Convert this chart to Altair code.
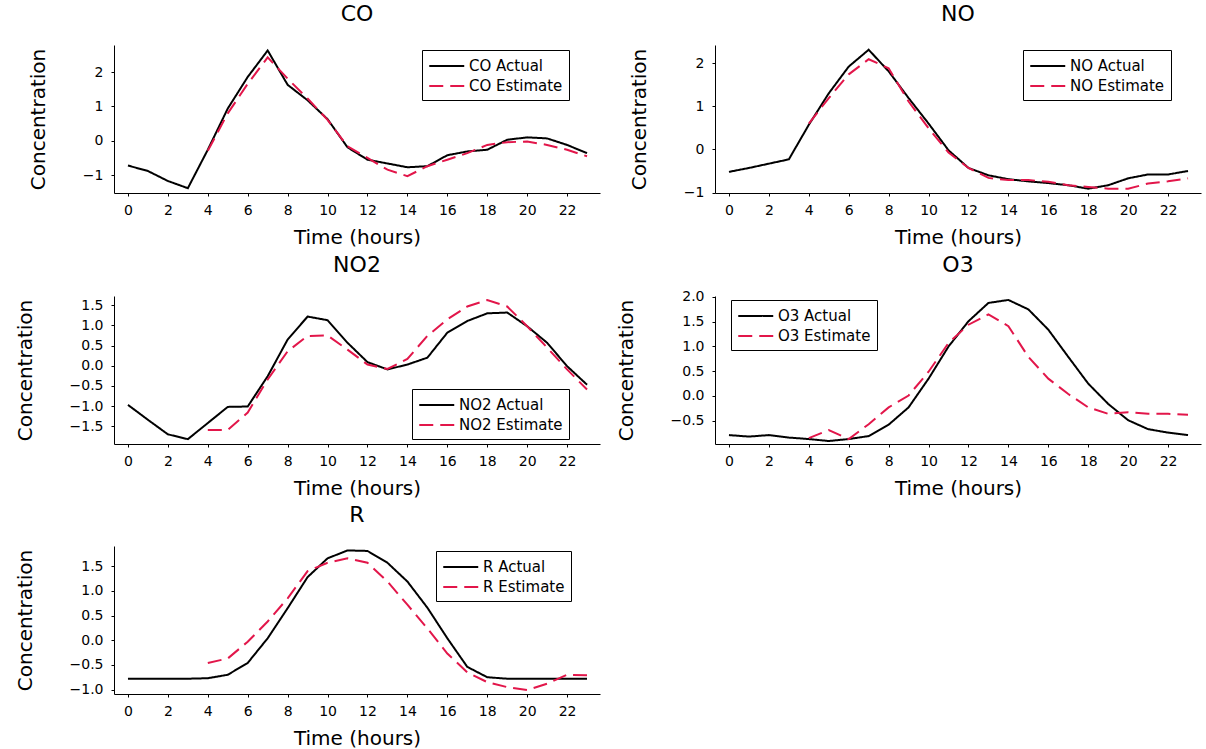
import altair as alt
import pandas as pd

hours = list(range(24))
est_hours = list(range(4, 24))

co_actual = [-0.72, -0.88, -1.17, -1.38, -0.26, 0.94, 1.86, 2.63, 1.63, 1.18, 0.63, -0.19,
             -0.55, -0.66, -0.77, -0.74, -0.42, -0.31, -0.26, 0.03, 0.10, 0.07, -0.12, -0.36]
co_est = [-0.29, 0.80, 1.66, 2.43, 1.81, 1.23, 0.61, -0.16, -0.50, -0.84, -1.03, -0.74,
          -0.55, -0.36, -0.12, -0.04, -0.02, -0.12, -0.26, -0.45]

no_actual = [-0.52, -0.43, -0.33, -0.23, 0.57, 1.30, 1.92, 2.31, 1.81, 1.19, 0.60, -0.02,
             -0.43, -0.60, -0.69, -0.74, -0.78, -0.83, -0.91, -0.83, -0.67, -0.58, -0.58, -0.50]
no_est = [0.60, 1.19, 1.74, 2.09, 1.88, 1.11, 0.49, -0.07, -0.43, -0.66, -0.71, -0.71,
          -0.75, -0.83, -0.87, -0.91, -0.91, -0.79, -0.74, -0.67]

no2_actual = [-0.97, -1.34, -1.70, -1.82, -1.42, -1.02, -1.01, -0.26, 0.65, 1.22, 1.13, 0.57,
              0.09, -0.09, 0.03, 0.20, 0.82, 1.11, 1.30, 1.32, 0.98, 0.57, -0.01, -0.47]
no2_est = [-1.59, -1.59, -1.16, -0.34, 0.36, 0.74, 0.75, 0.40, 0.03, -0.08, 0.17, 0.74,
           1.15, 1.47, 1.63, 1.47, 0.98, 0.45, -0.09, -0.59]

o3_actual = [-0.79, -0.82, -0.79, -0.84, -0.87, -0.91, -0.87, -0.81, -0.58, -0.23, 0.35, 1.00,
             1.51, 1.88, 1.94, 1.75, 1.34, 0.79, 0.25, -0.16, -0.49, -0.67, -0.74, -0.79]
o3_est = [-0.85, -0.69, -0.87, -0.57, -0.23, 0.01, 0.49, 1.07, 1.44, 1.65, 1.41, 0.79,
          0.35, 0.04, -0.23, -0.36, -0.33, -0.36, -0.36, -0.38]

r_actual = [-0.78, -0.78, -0.78, -0.78, -0.77, -0.70, -0.46, 0.04, 0.65, 1.28, 1.66, 1.82,
            1.81, 1.57, 1.19, 0.66, 0.04, -0.54, -0.75, -0.78, -0.78, -0.78, -0.78, -0.78]
r_est = [-0.46, -0.37, -0.03, 0.38, 0.85, 1.40, 1.57, 1.66, 1.57, 1.19, 0.72, 0.24,
         -0.27, -0.65, -0.85, -0.95, -1.01, -0.88, -0.70, -0.71]

x_ticks = list(range(0, 24, 2))

RED = "#E2164A"
FONT = "DejaVu Sans"

panels = [
    # name, actual, estimate, y-domain, y-ticks, format, legend x, legend y, title offset
    ("CO", co_actual, co_est, [-1.52, 2.79], [-1, 0, 1, 2], "d", 308, 5, 19),
    ("NO", no_actual, no_est, [-1.01, 2.42], [-1, 0, 1, 2], "d", 308, 5, 19),
    ("NO2", no2_actual, no2_est, [-1.94, 1.73], [-1.5, -1.0, -0.5, 0.0, 0.5, 1.0, 1.5], ".1f", 298, 93, 19),
    ("O3", o3_actual, o3_est, [-0.97, 2.02], [-0.5, 0.0, 0.5, 1.0, 1.5, 2.0], ".1f", 16, 4, 13),
    ("R", r_actual, r_est, [-1.09, 1.91], [-1.0, -0.5, 0.0, 0.5, 1.0, 1.5], ".1f", 322, 5, 19),
]


def make_panel(name, actual, est, ydom, yticks, fmt, lx, ly, toff):
    a_lab = f"{name} Actual"
    e_lab = f"{name} Estimate"
    df = pd.concat([
        pd.DataFrame({"hour": hours, "value": actual, "series": a_lab}),
        pd.DataFrame({"hour": est_hours, "value": est, "series": e_lab}),
    ])
    return alt.Chart(df, title=alt.Title(name, fontSize=22, font=FONT, fontWeight="normal",
                                         color="black", offset=toff)).mark_line(
        strokeWidth=2
    ).encode(
        x=alt.X("hour:Q", title="Time (hours)",
                scale=alt.Scale(domain=[-0.7, 23.65], nice=False, zero=False),
                axis=alt.Axis(values=x_ticks, format="d")),
        y=alt.Y("value:Q", title="Concentration",
                scale=alt.Scale(domain=ydom, nice=False, zero=False),
                axis=alt.Axis(values=yticks, format=fmt)),
        color=alt.Color("series:N",
                        scale=alt.Scale(domain=[a_lab, e_lab], range=["black", RED]),
                        legend=alt.Legend(title=None, orient="none", legendX=lx, legendY=ly)),
        strokeDash=alt.StrokeDash("series:N",
                                  scale=alt.Scale(domain=[a_lab, e_lab], range=[[1, 0], [14, 7]]),
                                  legend=alt.Legend(title=None, orient="none", legendX=lx, legendY=ly)),
        order=alt.Order("hour:Q"),
    ).properties(width=486, height=148)


charts = [make_panel(*p) for p in panels]

chart = alt.concat(*charts, columns=2, spacing={"row": 6, "column": 16}).resolve_scale(
    color="independent", strokeDash="independent", y="independent", x="independent"
).properties(
    padding={"left": 15, "top": 3, "right": 5, "bottom": 0}
).configure_view(
    stroke=None
).configure_axis(
    domainColor="black", domainWidth=1, tickColor="black", tickSize=3,
    labelColor="black", labelFont=FONT, labelFontSize=14,
    titleColor="black", titleFont=FONT, titleFontSize=20, titleFontWeight="normal",
    grid=False,
).configure_axisX(
    labelPadding=7, titlePadding=10,
).configure_axisY(
    labelPadding=8, titlePadding=34,
).configure_legend(
    strokeColor="black", fillColor="white", padding=6, cornerRadius=0,
    labelFont=FONT, labelFontSize=15, labelColor="black",
    symbolType="M-1,0H3", symbolSize=306, symbolStrokeWidth=2, rowPadding=2,
    labelOffset=21,
)

chart.save("out.html", embed_options={"renderer": "svg", "actions": False})
